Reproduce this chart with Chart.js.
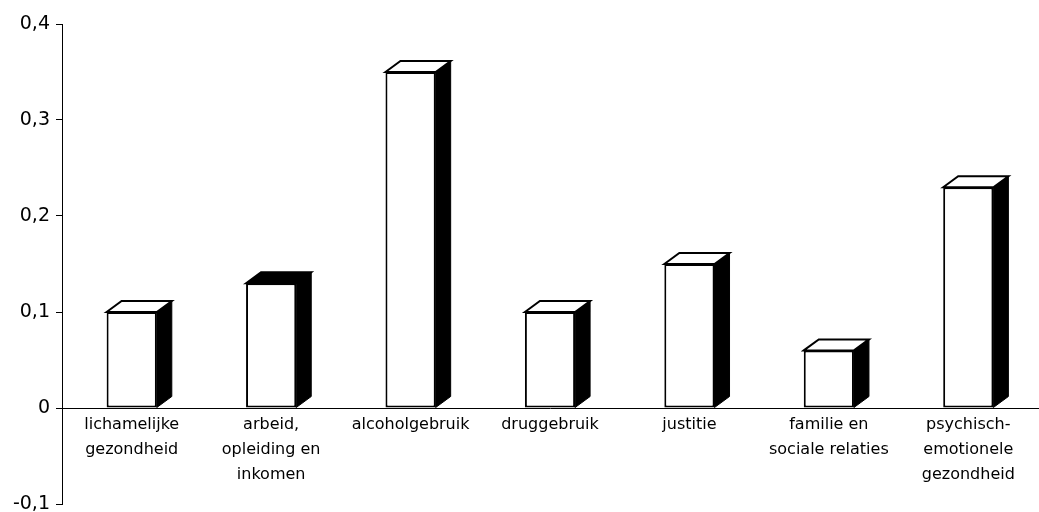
<!DOCTYPE html>
<html>
<head>
<meta charset="utf-8">
<script src="https://cdn.jsdelivr.net/npm/chart.js@4/dist/chart.umd.min.js"></script>
<style>
  html, body { margin: 0; padding: 0; background: #fff; }
  #wrap { width: 1039px; height: 512px; position: relative; }
</style>
</head>
<body>
<div id="wrap"><canvas id="c"></canvas></div>
<script>
// Domains and their scores
const categories = [
  ['lichamelijke', 'gezondheid'],
  ['arbeid,', 'opleiding en', 'inkomen'],
  'alcoholgebruik',
  'druggebruik',
  'justitie',
  ['familie en', 'sociale relaties'],
  ['psychisch-', 'emotionele', 'gezondheid']
];
const scores = [0.10, 0.13, 0.35, 0.10, 0.15, 0.06, 0.23];
const yTicks = [-0.1, 0, 0.1, 0.2, 0.3, 0.4];

// Fill of the top face of each block
const topFaces = ['#fff', '#000', '#fff', '#fff', '#fff', '#fff', '#fff'];

// Pseudo-3D extrusion for the bars: black right side and a slanted top face
const DEPTH_X = 15, DEPTH_Y = 11;
const blockPlugin = {
  id: 'block3d',
  afterDatasetsDraw(chart) {
    const ctx = chart.ctx;
    const meta = chart.getDatasetMeta(0);
    meta.data.forEach((bar, i) => {
      const { x, y, base, width } = bar.getProps(['x', 'y', 'base', 'width'], true);
      const xl = x - width / 2, xr = x + width / 2;
      ctx.save();
      ctx.lineJoin = 'miter';
      // side face
      ctx.beginPath();
      ctx.moveTo(xr, y);
      ctx.lineTo(xr + DEPTH_X, y - DEPTH_Y);
      ctx.lineTo(xr + DEPTH_X, base - DEPTH_Y);
      ctx.lineTo(xr, base);
      ctx.closePath();
      ctx.fillStyle = '#000';
      ctx.fill();
      ctx.strokeStyle = '#000';
      ctx.lineWidth = 1;
      ctx.stroke();
      // top face
      ctx.beginPath();
      ctx.moveTo(xl, y);
      ctx.lineTo(xl + DEPTH_X, y - DEPTH_Y);
      ctx.lineTo(xr + DEPTH_X, y - DEPTH_Y);
      ctx.lineTo(xr, y);
      ctx.closePath();
      ctx.fillStyle = topFaces[i];
      ctx.fill();
      ctx.lineWidth = 2;
      ctx.stroke();
      ctx.restore();
    });
  }
};

const FONT = "'DejaVu Sans', Verdana, sans-serif";

new Chart(document.getElementById('c'), {
  type: 'bar',
  data: {
    labels: categories,
    datasets: [{
      data: scores,
      backgroundColor: '#fff',
      borderColor: '#000',
      borderWidth: 2,
      borderSkipped: false,
      categoryPercentage: 1,
      barPercentage: 0.36
    }]
  },
  plugins: [blockPlugin],
  options: {
    responsive: true,
    maintainAspectRatio: false,
    animation: false,
    layout: { padding: { top: 24, bottom: 8, left: 0, right: 1 } },
    plugins: { legend: { display: false }, tooltip: { enabled: false } },
    scales: {
      x: {
        position: { y: 0 },
        grid: { display: false, drawTicks: false },
        border: { display: true, color: '#000', width: 1 },
        ticks: {
          color: '#000',
          font: { family: FONT, size: 16, lineHeight: 1.58 },
          padding: 4,
          maxRotation: 0,
          autoSkip: false
        }
      },
      y: {
        min: -0.1,
        max: 0.4,
        afterBuildTicks(scale) {
          scale.ticks = yTicks.map(v => ({ value: v }));
        },
        afterFit(scale) {
          scale.width = 62;
          scale.paddingTop = 0;
          scale.paddingBottom = 0;
        },
        grid: {
          drawOnChartArea: false,
          drawTicks: true,
          tickLength: 6,
          color: '#000',
          lineWidth: 1
        },
        border: { display: true, color: '#000', width: 1 },
        ticks: {
          color: '#000',
          font: { family: FONT, size: 19 },
          padding: 6,
          callback: v => String(Math.round(v * 10) / 10).replace('.', ',')
        }
      }
    }
  }
});
</script>
</body>
</html>
